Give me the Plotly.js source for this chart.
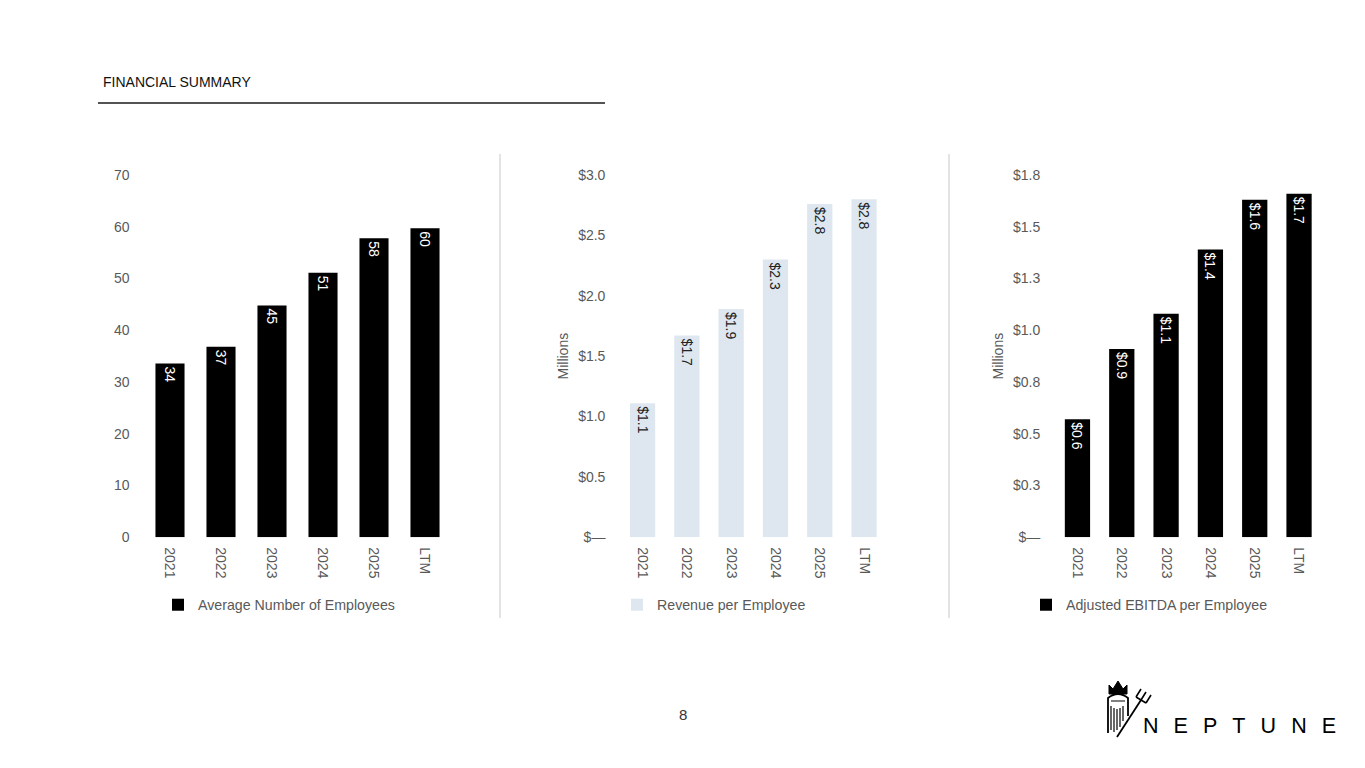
<!DOCTYPE html>
<html>
<head>
<meta charset="utf-8">
<script src="https://cdn.plot.ly/plotly-3.0.1.min.js"></script>
<style>
  html, body { margin: 0; padding: 0; background: #fff; }
  #chart { width: 1365px; height: 768px; }
</style>
</head>
<body>
<div id="chart"></div>
<script>
  // Data
  const years = ["2021", "2022", "2023", "2024", "2025", "LTM"];
  const employees = [33.6, 36.8, 44.8, 51.1, 57.8, 59.7];
  const revenuePerEmployee = [1.11, 1.67, 1.89, 2.30, 2.76, 2.80];
  const ebitdaPerEmployee = [0.57, 0.91, 1.08, 1.39, 1.63, 1.66];

  const employeeTicks = [0, 10, 20, 30, 40, 50, 60, 70];
  const revenueTicks = [0, 0.5, 1.0, 1.5, 2.0, 2.5, 3.0];
  const revenueTickText = ["$\u2014", "$0.5", "$1.0", "$1.5", "$2.0", "$2.5", "$3.0"];
  const ebitdaTicks = [0, 0.25, 0.5, 0.75, 1.0, 1.25, 1.5, 1.75];
  const ebitdaTickText = ["$\u2014", "$0.3", "$0.5", "$0.8", "$1.0", "$1.3", "$1.5", "$1.8"];

  const W = 1365, H = 768;
  const px = (x) => x / W;
  const py = (y) => 1 - y / H;

  const FONT = "Liberation Sans, Arial, sans-serif";
  const GRAY = "#595959";

  function money(v) {
    return "$" + v.toFixed(1);
  }

  const traces = [
    {
      type: "bar",
      x: years,
      y: employees,
      name: "Average Number of Employees",
      marker: { color: "#000000" },
      text: employees.map((v) => Math.round(v).toString()),
      textposition: "inside",
      insidetextanchor: "end",
      textangle: 90,
      textfont: { color: "#ffffff", size: 14, family: FONT },
      xaxis: "x",
      yaxis: "y",
      legend: "legend",
      hoverinfo: "none",
    },
    {
      type: "bar",
      x: years,
      y: revenuePerEmployee,
      name: "Revenue per Employee",
      marker: { color: "#dee7f0" },
      text: revenuePerEmployee.map(money),
      textposition: "inside",
      insidetextanchor: "end",
      textangle: 90,
      textfont: { color: "#222222", size: 14, family: FONT },
      xaxis: "x2",
      yaxis: "y2",
      legend: "legend2",
      hoverinfo: "none",
    },
    {
      type: "bar",
      x: years,
      y: ebitdaPerEmployee,
      name: "Adjusted EBITDA per Employee",
      marker: { color: "#000000" },
      text: ebitdaPerEmployee.map(money),
      textposition: "inside",
      insidetextanchor: "end",
      textangle: 90,
      textfont: { color: "#ffffff", size: 14, family: FONT },
      xaxis: "x3",
      yaxis: "y3",
      legend: "legend3",
      hoverinfo: "none",
    },
  ];

  const xBase = {
    type: "category",
    showgrid: false,
    zeroline: false,
    showline: false,
    ticks: "",
    tickangle: 90,
    ticklabelstandoff: 9,
    tickfont: { size: 14, color: GRAY, family: FONT },
    fixedrange: true,
  };
  const yBase = {
    showgrid: false,
    zeroline: false,
    showline: false,
    ticks: "",
    ticklabelstandoff: 14,
    tickfont: { size: 14, color: GRAY, family: FONT },
    fixedrange: true,
    domain: [py(537.3), py(175)],
  };
  const legendBase = {
    orientation: "h",
    yanchor: "middle",
    xanchor: "left",
    y: py(605),
    bgcolor: "rgba(0,0,0,0)",
    font: { size: 14.2, color: GRAY, family: FONT },
  };
  const millions = { text: "Millions", standoff: 6, font: { size: 14, color: GRAY, family: FONT } };

  // small helper for the logo strokes
  const stroke = (d, w) => ({
    type: "path", xref: "paper", yref: "paper", path: d,
    line: { color: "#000", width: w || 1.6 },
  });
  const P = (x, y) => `${px(x)},${py(y)}`;

  const layout = {
    width: W,
    height: H,
    margin: { l: 0, r: 0, t: 0, b: 0 },
    paper_bgcolor: "#ffffff",
    plot_bgcolor: "#ffffff",
    font: { family: FONT, color: GRAY },
    bargap: 0.43,
    showlegend: true,
    xaxis: Object.assign({}, xBase, { domain: [px(144.5), px(450.5)], anchor: "y" }),
    yaxis: Object.assign({}, yBase, {
      anchor: "x",
      range: [0, 70],
      tickvals: employeeTicks,
    }),
    xaxis2: Object.assign({}, xBase, { domain: [px(620.4), px(886.2)], anchor: "y2" }),
    yaxis2: Object.assign({}, yBase, {
      anchor: "x2",
      range: [0, 3.0],
      tickvals: revenueTicks,
      ticktext: revenueTickText,
      title: millions,
    }),
    xaxis3: Object.assign({}, xBase, { domain: [px(1055.3), px(1321.2)], anchor: "y3" }),
    yaxis3: Object.assign({}, yBase, {
      anchor: "x3",
      range: [0, 1.75],
      tickvals: ebitdaTicks,
      ticktext: ebitdaTickText,
      title: millions,
    }),
    legend: Object.assign({}, legendBase, { x: px(158) }),
    legend2: Object.assign({}, legendBase, { x: px(617) }),
    legend3: Object.assign({}, legendBase, { x: px(1026) }),
    shapes: [
      // rule under the heading
      { type: "line", xref: "paper", yref: "paper", x0: px(98), x1: px(605), y0: py(103), y1: py(103),
        line: { color: "#1a1a1a", width: 1.5 } },
      // separators between the panels
      { type: "line", xref: "paper", yref: "paper", x0: px(500), x1: px(500), y0: py(154), y1: py(618),
        line: { color: "#e3e3e3", width: 2 } },
      { type: "line", xref: "paper", yref: "paper", x0: px(949), x1: px(949), y0: py(154), y1: py(618),
        line: { color: "#e3e3e3", width: 2 } },
      // logo: crown
      { type: "path", xref: "paper", yref: "paper",
        path: `M${P(1109, 694)} L${P(1109, 685)} L${P(1113, 689)} L${P(1118, 681)} L${P(1123, 689)} L${P(1127, 685)} L${P(1127, 694)} Z`,
        fillcolor: "#000", line: { color: "#000", width: 1 } },
      // logo: head and beard
      stroke(`M${P(1108, 733)} L${P(1108, 698)} Q${P(1118, 690)} ${P(1128, 698)} L${P(1128, 716)}`, 1.8),
      stroke(`M${P(1111, 730)} L${P(1111, 706)} M${P(1114, 732)} L${P(1114, 708)} M${P(1117, 730)} L${P(1117, 709)} M${P(1120, 727)} L${P(1120, 708)} M${P(1123, 721)} L${P(1123, 706)} M${P(1111, 701)} L${P(1125, 701)}`, 1.2),
      // logo: trident
      stroke(`M${P(1117, 737)} L${P(1141, 700)}`, 1.8),
      stroke(`M${P(1136, 697)} L${P(1146, 703)} M${P(1136, 697)} L${P(1141, 689)} M${P(1146, 703)} L${P(1151, 695)} M${P(1141, 700)} L${P(1146, 692)}`, 1.6),
    ],
    annotations: [
      { text: "FINANCIAL SUMMARY", xref: "paper", yref: "paper", x: px(101), y: py(82),
        xanchor: "left", yanchor: "middle", showarrow: false,
        font: { size: 14, color: "#111111", family: FONT } },
      { text: "8", xref: "paper", yref: "paper", x: px(683), y: py(714),
        xanchor: "center", yanchor: "middle", showarrow: false,
        font: { size: 15, color: "#333333", family: FONT } },
      { text: "N\u2002\u2009E\u2002\u2009P\u2002\u2009T\u2002\u2009U\u2002\u2009N\u2002\u2009E",
        xref: "paper", yref: "paper", x: px(1141), y: py(726),
        xanchor: "left", yanchor: "middle", showarrow: false,
        font: { size: 21.5, color: "#000000", family: FONT } },
    ],
  };

  Plotly.newPlot("chart", traces, layout, { staticPlot: true, displayModeBar: false });
</script>
</body>
</html>
